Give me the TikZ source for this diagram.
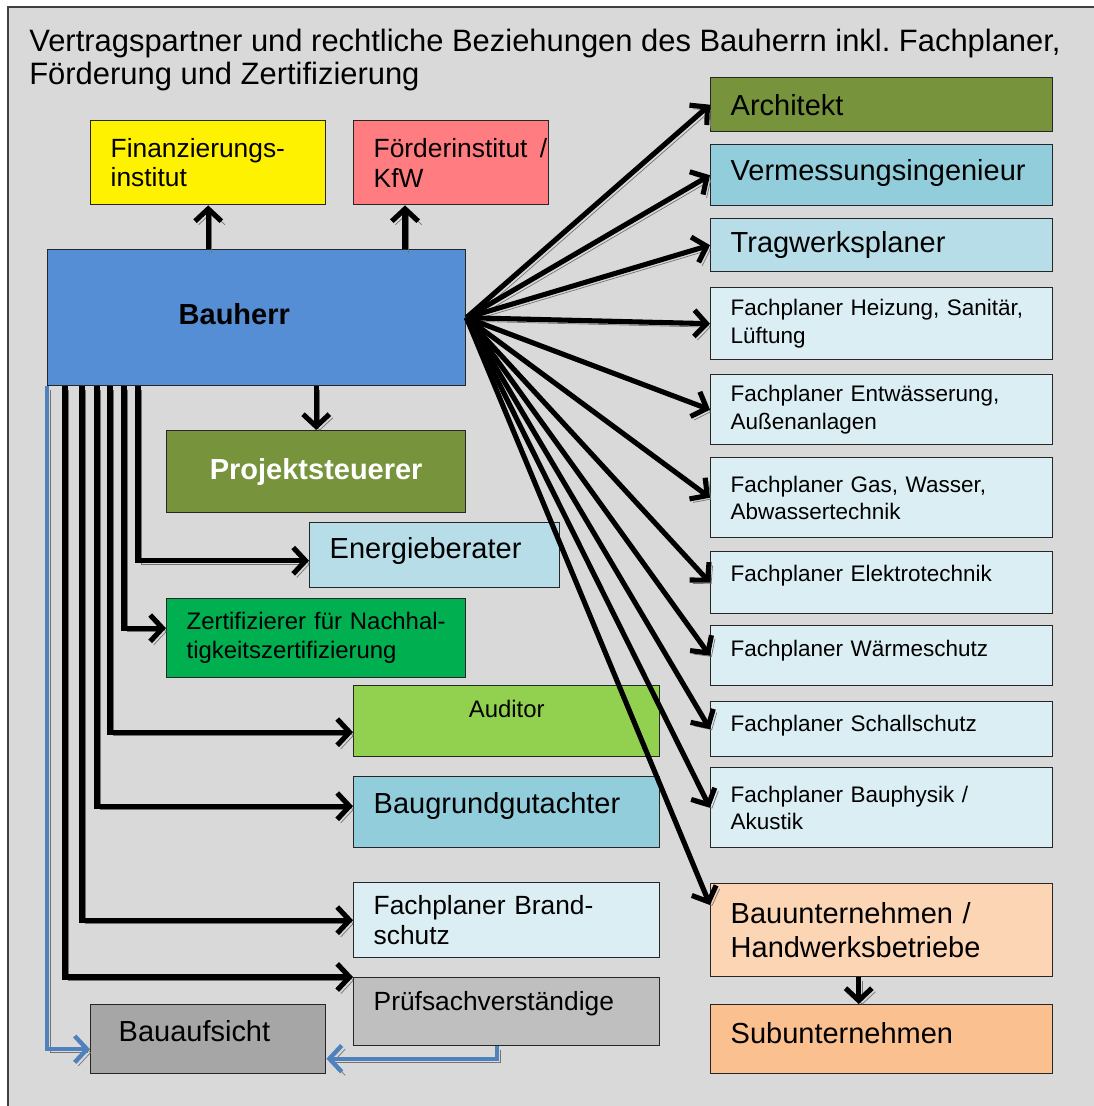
\documentclass[tikz,border=0pt]{standalone}
\usepackage{fontspec}
\setmainfont{Liberation Sans}
\usetikzlibrary{arrows.meta}

\newlength{\pxu}
\setlength{\pxu}{0.02cm}
\hyphenpenalty=10000
\exhyphenpenalty=10000
\frenchspacing

\definecolor{bggray}{HTML}{D9D9D9}
\definecolor{archgreen}{HTML}{77933C}
\definecolor{tealblue}{HTML}{92CDDC}
\definecolor{lightblue}{HTML}{B7DEE8}
\definecolor{paleblue}{HTML}{DBEEF4}
\definecolor{peach}{HTML}{FCD5B5}
\definecolor{lightorange}{HTML}{FAC090}
\definecolor{salmon}{HTML}{FF7C80}
\definecolor{bhblue}{HTML}{558ED5}
\definecolor{zertgreen}{HTML}{00B050}
\definecolor{audgreen}{HTML}{92D050}
\definecolor{midgray}{HTML}{BFBFBF}
\definecolor{darkgray}{HTML}{A6A6A6}
\definecolor{linkblue}{HTML}{4F81BD}

\tikzset{
  box/.style={draw=black!85, line width=0.8pt, anchor=north west, inner xsep=20\pxu, inner ysep=0pt, align=left},
  wh/.style 2 args={minimum width=#1\pxu, minimum height=#2\pxu, text width={(#1-40)*0.02cm}},
  title/.style={font=\fontsize{17.6}{18.8}\selectfont, anchor=north west, inner sep=0pt, align=left},
  big/.style={font=\fontsize{16.5}{19.5}\selectfont},
  mid/.style={font=\fontsize{15}{16.8}\selectfont},
  zf/.style={font=\fontsize{13.6}{16.5}\selectfont},
  small/.style={font=\fontsize{12.8}{15.4}\selectfont},
  conn/.style={draw=black, line width=2.9pt, -{Straight Barb[length=7pt,width=15pt]},
    preaction={draw=black!55, transform canvas={shift={(2pt,-2pt)}}}},
  bluelink/.style={conn, draw=linkblue, line width=2.5pt}
}

\begin{document}
\begin{tikzpicture}[x=0.02cm, y=-0.02cm]
\useasboundingbox (0,0) rectangle (1093,1106);
\draw [fill=bggray, draw=black!75, line width=0.8pt] (8,7) rectangle (1115,1125);

\node [title] (title) at (29,29) {Vertragspartner und rechtliche Beziehungen des Bauherrn inkl. Fachplaner,\\F\"orderung und Zertifizierung};

% Bauherr and left column
\node [box, wh={235}{84}, mid, fill=yellow] (fin) at (90,120) {Finanzierungs-\\institut};
\node [box, wh={195}{84}, mid, fill=salmon] (foerd) at (353,120) {F\"orderinstitut~\hspace{2pt}/\\KfW};
\node [box, wh={418}{136}, big, fill=bhblue, text depth=8\pxu] (bh) at (47,249) {\hspace*{111\pxu}\textbf{Bauherr}};
\node [box, wh={299}{82}, big, fill=archgreen, text=white, align=center] (proj) at (166,430) {\textbf{Projektsteuerer}};
\node [box, wh={250}{65}, big, fill=lightblue, text depth=15\pxu] (energ) at (309,522) {Energieberater};
\node [box, wh={299}{79}, zf, fill=zertgreen] (zert) at (166,598) {Zertifizierer~f\"ur~Nachhal-\\tigkeitszertifizierung};
\node [box, wh={306}{71}, zf, fill=audgreen, align=center, text depth=24\pxu] (aud) at (353,685) {Auditor};
\node [box, wh={306}{71}, big, fill=tealblue, text depth=18\pxu] (baug) at (353,776) {Baugrundgutachter};
\node [box, wh={306}{75}, mid, fill=paleblue] (brand) at (353,882) {Fachplaner Brand-\\schutz};
\node [box, wh={306}{68}, mid, fill=midgray, text depth=22\pxu] (pruef) at (353,977) {Pr\"ufsachverst\"andige};
\node [box, wh={235}{69}, big, fill=darkgray, text depth=16\pxu] (baua) at (90,1004) {\hspace*{8\pxu}Bauaufsicht};

% right column
\node [box, wh={342}{54}, big, fill=archgreen] (arch) at (710,77) {Architekt};
\node [box, wh={342}{61}, big, fill=tealblue, text depth=10\pxu] (verm) at (710,144) {Vermessungsingenieur};
\node [box, wh={342}{53}, big, fill=lightblue] (trag) at (710,218) {Tragwerksplaner};
\node [box, wh={342}{72}, small, fill=paleblue] (heiz) at (710,287) {Fachplaner~Heizung,~Sanit\"ar,\\L\"uftung};
\node [box, wh={342}{70}, small, fill=paleblue] (entw) at (710,374) {Fachplaner~Entw\"asserung,\\Au\ss enanlagen};
\node [box, wh={342}{80}, small, fill=paleblue] (gas) at (710,457) {Fachplaner Gas, Wasser,\\Abwassertechnik};
\node [box, wh={342}{62}, small, fill=paleblue, text depth=19\pxu] (elek) at (710,551) {Fachplaner Elektrotechnik};
\node [box, wh={342}{60}, small, fill=paleblue, text depth=15\pxu] (waerme) at (710,625) {Fachplaner W\"armeschutz};
\node [box, wh={342}{55}, small, fill=paleblue, text depth=11\pxu] (schall) at (710,701) {Fachplaner Schallschutz};
\node [box, wh={342}{80}, small, fill=paleblue] (phys) at (710,767) {Fachplaner Bauphysik /\\Akustik};
\node [box, wh={342}{93}, big, fill=peach] (bu) at (710,883) {Bauunternehmen /\\Handwerksbetriebe};
\node [box, wh={342}{69}, big, fill=lightorange, text depth=12\pxu] (sub) at (710,1004) {Subunternehmen};

% arrows up and down
\draw [conn] (fin.south |- bh.north) -- (fin.south);
\draw [conn] ([xshift=358\pxu]bh.north west) -- ([xshift=358\pxu]bh.north west |- foerd.south);
\draw [conn] (proj.north |- bh.south) -- (proj.north);
\draw [conn] ([xshift=-23\pxu]bu.south) -- ([xshift=-23\pxu]bu.south |- sub.north);

% fan to the right
\foreach \t in {arch,verm,trag,heiz,entw,gas,elek,waerme,schall,phys}
  \draw [conn] (bh.east) -- (\t.west);
\draw [conn] (bh.east) -- ([yshift=-0.44cm]bu.north west);

% left side
\draw [conn] ([xshift=18\pxu]bh.south west) |- (pruef.north west);
\draw [conn] ([xshift=35\pxu]bh.south west) |- (brand.west);
\draw [conn] ([xshift=50\pxu]bh.south west) |- ([yshift=0.12cm]baug.west);
\draw [conn] ([xshift=63\pxu]bh.south west) |- ([yshift=-0.22cm]aud.west);
\draw [conn] ([xshift=77\pxu]bh.south west) |- ([yshift=0.2cm]zert.west);
\draw [conn] ([xshift=91\pxu]bh.south west) |- ([yshift=-0.11cm]energ.west);

% Bauaufsicht
\draw [bluelink] (bh.south west) |- ([yshift=-0.2cm]baua.west);
\draw [bluelink] ([xshift=144\pxu]pruef.south west) |- ([yshift=-0.39cm]baua.east);
\end{tikzpicture}
\end{document}
